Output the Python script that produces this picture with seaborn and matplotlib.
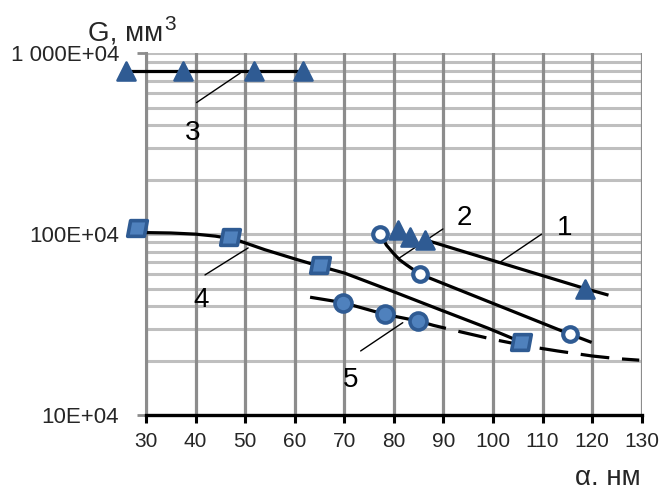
import matplotlib
matplotlib.use("Agg")
import matplotlib.pyplot as plt
import seaborn as sns
from matplotlib.ticker import LogLocator, FixedLocator, FixedFormatter, NullFormatter
from matplotlib.path import Path

# ---------------- data (G in units of 1E+04 mm^3) ----------------
# Series 1 (triangles)
s1_x = [80.9, 83.3, 86.3, 118.6]
s1_y = [105.5, 96, 93, 50]
c1_x = [86.3, 118.6, 123.3]
c1_y = [93, 50, 46]
# Series 2 (open circles)
s2_x = [77.3, 85.3, 115.5]
s2_y = [100, 60, 28]
c2_x = [77.3, 78.5, 79.9, 81.2, 82.6, 85.3, 115.5, 119.9]
c2_y = [100, 87, 78.4, 72, 67.5, 60, 28, 25.2]
# Series 3 (triangles, top)
s3_x = [26, 37.5, 51.8, 61.7]
s3_y = [800, 800, 800, 800]
# Series 4 (squares)
s4_x = [28.1, 46.9, 65.1, 105.6]
s4_y = [108, 97, 67.5, 25.4]
c4_x = [30, 35, 40, 44, 48, 54, 60, 65, 70, 80, 89, 99, 105.6]
c4_y = [102, 101.5, 100, 97.5, 93.5, 82, 73, 66.5, 61, 48, 38.5, 30.2, 25.4]
# Series 5 (filled circles)
s5_x = [69.8, 78.2, 84.9]
s5_y = [41.8, 36, 33.1]
c5s_x = [63.1, 69.8, 78.2, 84.9]
c5s_y = [44.8, 41.8, 36, 33.1]
c5d_x = [84.9, 88, 94, 100, 107, 113, 120, 125, 129.5]
c5d_y = [33.1, 31.3, 28.6, 26.2, 24, 22.6, 21.2, 20.5, 20.1]

# curve labels with leader lines
lab_text = ["1", "2", "3", "4", "5"]
lab_x = [114.5, 94.2, 39.5, 41.2, 71.2]
lab_y = [107.8, 122.5, 363, 43.3, 15.6]
lead_x0 = [109.8, 89.9, 49, 50.6, 81.8]
lead_y0 = [100, 106.8, 777, 83.9, 32.4]
lead_x1 = [101.1, 80.8, 40.2, 41.9, 73.3]
lead_y1 = [69, 72.9, 534, 59.5, 22.6]

x_ticks = list(range(30, 131, 10))
y_ticks = [10, 100, 1000]
y_tick_labels = ["10E+04", "100E+04", "1 000E+04"]

# ---------------- style ----------------
sns.set_theme(style="white")
plt.rcParams["font.family"] = ["Liberation Sans", "DejaVu Sans"]

BLUE = "#2F5B93"
LIGHT = "#4F81BD"

fig = plt.figure(figsize=(6.66, 4.90), dpi=100)
ax = fig.add_axes([146 / 666, 1 - 415 / 490, (641.7 - 146) / 666, (415 - 53.3) / 490])
ax.set_yscale("log")
ax.set_xlim(30, 130)
ax.set_ylim(10, 1000)

# grid
ax.set_axisbelow(True)
ax.xaxis.set_major_locator(FixedLocator(x_ticks))
ax.yaxis.set_major_locator(FixedLocator(y_ticks))
ax.yaxis.set_major_formatter(FixedFormatter(y_tick_labels))
ax.yaxis.set_minor_locator(LogLocator(base=10, subs=range(2, 10)))
ax.yaxis.set_minor_formatter(NullFormatter())
ax.grid(axis="y", which="both", color="#bfbfbf", lw=2.2)
ax.grid(axis="x", which="major", color="#8c8c8c", lw=2.3)
ax.xaxis.set_zorder(0.6)

for side in ["top", "right"]:
    ax.spines[side].set_visible(False)
ax.spines["left"].set_color("#8c8c8c")
ax.spines["left"].set_linewidth(2.2)
ax.spines["bottom"].set_color("black")
ax.spines["bottom"].set_linewidth(2.4)

ax.tick_params(axis="x", which="major", direction="out", length=6, width=2.2,
               color="black", labelsize=15, pad=6, bottom=True)
ax.tick_params(axis="y", which="major", direction="out", length=6.5, width=2.0,
               color="#8c8c8c", labelsize=16, pad=13, left=True)
ax.tick_params(axis="y", which="minor", length=0)
ax.set_xlabel("")
ax.set_ylabel("")

# ---------------- lines ----------------
LW = 2.3
def line(xs, ys, clip=True, dashed=False):
    sns.lineplot(x=xs, y=ys, sort=False, estimator=None, color="black", lw=LW, ax=ax, zorder=3)
    ln = ax.lines[-1]
    ln.set_clip_on(clip)
    ln.set_solid_capstyle("butt")
    ln.set_solid_joinstyle("round")
    if dashed:
        ln.set_linestyle((0, (9, 4)))
        ln.set_dash_capstyle("butt")

line(c1_x, c1_y)
line(c2_x, c2_y)
line(s3_x, s3_y, clip=False)
line(c4_x, c4_y)
line(c5s_x, c5s_y)
line(c5d_x, c5d_y, dashed=True)

# leader lines and labels
for t, tx, ty, x0, y0, x1, y1 in zip(lab_text, lab_x, lab_y, lead_x0, lead_y0, lead_x1, lead_y1):
    sns.lineplot(x=[x0, x1], y=[y0, y1], sort=False, estimator=None, color="black", lw=1.0, ax=ax, zorder=3)
    ax.text(tx, ty, t, fontsize=20, ha="center", va="center", color="black", zorder=5)

# ---------------- markers ----------------
para = Path([(-1, -0.8), (0.7, -0.8), (1, 0.8), (-0.7, 0.8), (-1, -0.8)],
            [Path.MOVETO, Path.LINETO, Path.LINETO, Path.LINETO, Path.CLOSEPOLY])

def markers(xs, ys, marker, s, face, edge, ew):
    sns.scatterplot(x=xs, y=ys, marker=marker, s=s, color=face, edgecolor=edge,
                    linewidth=ew, ax=ax, zorder=4, legend=False)
    coll = ax.collections[-1]
    coll.set_clip_on(False)
    coll.set_joinstyle("round")

markers(s1_x, s1_y, "^", 170, BLUE, BLUE, 1.8)
markers(s3_x, s3_y, "^", 170, BLUE, BLUE, 1.8)
markers(s2_x, s2_y, "o", 110, "white", BLUE, 3.0)
markers(s4_x, s4_y, para, 200, LIGHT, BLUE, 2.6)
markers(s5_x, s5_y, "o", 150, LIGHT, BLUE, 2.6)

# ---------------- axis titles ----------------
g_txt = fig.text(88 / 666, 1 - 40 / 490, "G, мм", fontsize=20, ha="left", va="baseline")
renderer = fig.canvas.get_renderer()
bb = g_txt.get_window_extent(renderer=renderer)
fig.text((bb.x1 + 1) / 666, 1 - 30 / 490, "3", fontsize=15, ha="left", va="baseline")
fig.text(608 / 666, 1 - 485 / 490, "α. нм", fontsize=20, ha="center", va="baseline")

fig.savefig("out.png", dpi=100)
